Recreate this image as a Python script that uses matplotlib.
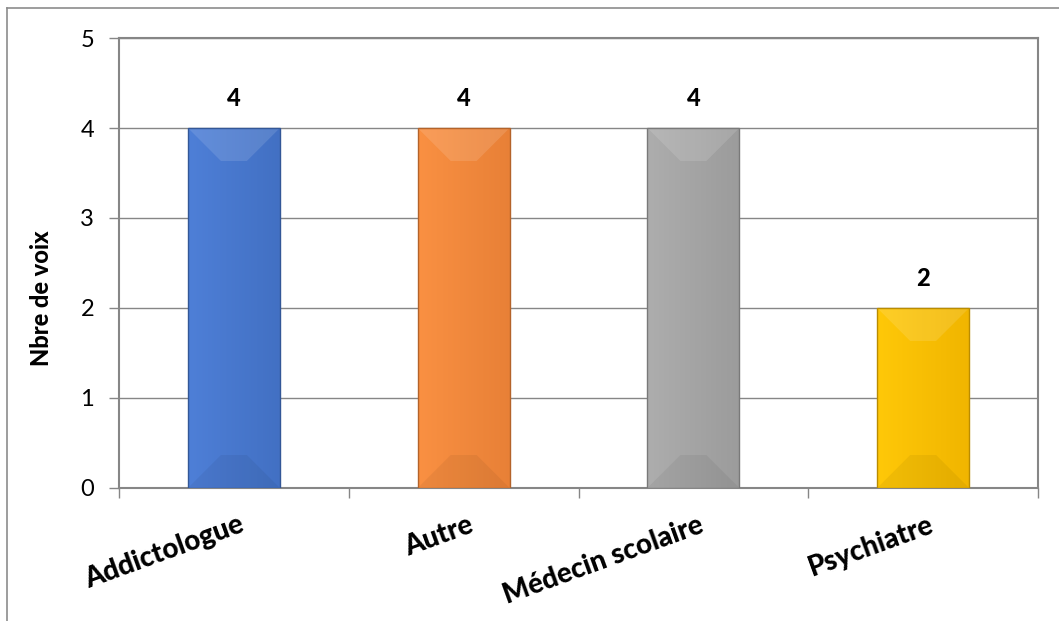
import numpy as np
import matplotlib
matplotlib.use("Agg")
import matplotlib.pyplot as plt
from matplotlib.patches import Polygon, Rectangle
from matplotlib.colors import to_rgb

categories = ["Addictologue", "Autre", "Médecin scolaire", "Psychiatre"]
votes = [4, 4, 4, 2]
bar_colors = ["#4677CF", "#F6883A", "#A5A5A5", "#FFC000"]
y_ticks = [0, 1, 2, 3, 4, 5]

plt.rcParams['font.family'] = ['Lato', 'DejaVu Sans']

fig = plt.figure(figsize=(10.59, 6.21), dpi=100)
ax = fig.add_axes([0.1124, 0.2142, 0.8678, 0.7246])

x = np.arange(len(categories))
bars = ax.bar(x, votes, width=0.4, color=bar_colors, zorder=3,
              edgecolor="none")

ax.set_xlim(-0.5, len(categories) - 0.5)
ax.set_ylim(0, 5)
fig.canvas.draw()

# bevel look, sizes given in pixels then converted to data units
bevel_px = 33
to_data = ax.transData.inverted()
p0 = to_data.transform((0, 0))
p1 = to_data.transform((bevel_px, bevel_px))
bx, by = p1[0] - p0[0], p1[1] - p0[1]

for b, c in zip(bars, bar_colors):
    x0, w, h = b.get_x(), b.get_width(), b.get_height()
    x1 = x0 + w
    rgb = np.array(to_rgb(c))
    light = np.clip(rgb + 0.08, 0, 1)
    dark = rgb * 0.86
    grad = np.linspace(0, 1, 64)[None, :, None]
    img = light * (1 - grad) + dark * grad
    img = 0.6 * rgb + 0.4 * img
    im = ax.imshow(img, extent=(x0, x1, 0, h), aspect="auto", zorder=3,
                   interpolation="bilinear")
    im.set_clip_path(b)
    top = Polygon([(x0, h), (x1, h), (x1 - bx, h - by), (x0 + bx, h - by)],
                  closed=True, facecolor="white", alpha=0.12, edgecolor="none",
                  zorder=4)
    bot = Polygon([(x0, 0), (x1, 0), (x1 - bx, by), (x0 + bx, by)],
                  closed=True, facecolor="black", alpha=0.05, edgecolor="none",
                  zorder=4)
    ax.add_patch(top)
    ax.add_patch(bot)
    ax.add_patch(Rectangle((x0, 0), w, h, fill=False, edgecolor=dark * 0.85,
                           linewidth=1.0, zorder=5))
    ax.text(b.get_x() + w / 2, h + 0.2, str(h), ha="center", va="bottom",
            fontsize=17, fontweight="black", color="black", zorder=6)

ax.set_yticks(y_ticks)
ax.yaxis.grid(True, color="#868686", linewidth=1.0, zorder=0)
ax.set_axisbelow(True)
ax.set_xticks(np.arange(len(categories) + 1) - 0.5, minor=False)
ax.set_xticklabels([])
ax.tick_params(axis="x", length=7, color="#868686", width=1.0)
ax.tick_params(axis="y", length=7, color="#868686", width=1.0,
               labelsize=17, pad=11)
for t in ax.get_yticklabels():
    t.set_color("black")

for xi, name in zip(x, categories):
    ax.text(xi + 0.04, -0.40, name, rotation=20, rotation_mode="anchor",
            ha="right", va="center", fontsize=20, fontweight="black",
            transform=ax.transData, clip_on=False)

for s in ax.spines.values():
    s.set_color("#868686")
    s.set_linewidth(1.5)

ax.set_ylabel("Nbre de voix", fontsize=17, fontweight="black")
ax.yaxis.set_label_coords(-0.072, 0.422)

# outer chart frame
fig.add_artist(plt.Line2D([7 / 1059, 7 / 1059], [0, 1 - 8 / 621],
                          color="#8c8c8c", linewidth=1.2))
fig.add_artist(plt.Line2D([7 / 1059, 1], [1 - 8 / 621, 1 - 8 / 621],
                          color="#8c8c8c", linewidth=1.2))

fig.savefig("out.png", dpi=100)
